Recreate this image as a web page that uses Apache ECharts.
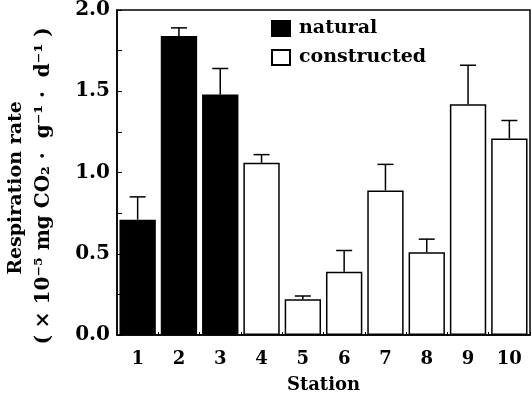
<!DOCTYPE html>
<html>
<head>
<meta charset="utf-8">
<script src="https://cdn.jsdelivr.net/npm/echarts@6/dist/echarts.min.js"></script>
<style>
  html, body { margin: 0; padding: 0; background: #fff; }
  #chart { width: 532px; height: 400px; }
</style>
</head>
<body>
<div id="chart"></div>
<script>
// stations on the x axis
const stations = ['1', '2', '3', '4', '5', '6', '7', '8', '9', '10'];
// mean respiration rate (x10^-5 mg CO2 / g / d)
const natural = [0.71, 1.84, 1.48, '-', '-', '-', '-', '-', '-', '-'];
const constructed = ['-', '-', '-', 1.06, 0.22, 0.39, 0.89, 0.51, 1.42, 1.21];
// upper error (SE)
const errors = [0.14, 0.05, 0.16, 0.05, 0.02, 0.13, 0.16, 0.08, 0.24, 0.11];
const yTicks = [0, 0.5, 1.0, 1.5, 2.0];

const font = "'DejaVu Serif', 'Liberation Serif', serif";
const chart = echarts.init(document.getElementById('chart'));

const means = stations.map((s, i) => natural[i] !== '-' ? natural[i] : constructed[i]);

const option = {
  animation: false,
  backgroundColor: '#fff',
  grid: {
    left: 117, right: 2, top: 10, bottom: 65,
    show: true, borderColor: '#000', borderWidth: 1.5
  },
  legend: {
    orient: 'vertical',
    left: 266, top: 14,
    itemWidth: 18, itemHeight: 15, itemGap: 10,
    icon: 'rect',
    textStyle: { fontFamily: font, fontWeight: 'bold', fontSize: 19, color: '#000', padding: [0, 0, 0, 4] },
    data: ['natural', 'constructed']
  },
  xAxis: {
    type: 'category',
    data: stations,
    name: 'Station',
    nameLocation: 'middle',
    nameGap: 41,
    nameTextStyle: { fontFamily: font, fontWeight: 'bold', fontSize: 18, color: '#000' },
    axisLine: { lineStyle: { color: '#000', width: 1.5 } },
    axisTick: { show: true, inside: true, length: 3, lineStyle: { color: '#000' } },
    axisLabel: { fontFamily: font, fontWeight: 'bold', fontSize: 18, color: '#000', margin: 15 }
  },
  yAxis: {
    type: 'value',
    min: 0, max: 2, interval: 0.5,
    axisLine: { show: true, lineStyle: { color: '#000', width: 1.5 } },
    axisTick: { show: true, inside: true, length: 5, lineStyle: { color: '#000' } },
    minorTick: { show: true, splitNumber: 2, length: 5, lineStyle: { color: '#000' } },
    splitLine: { show: false },
    axisLabel: {
      fontFamily: font, fontWeight: 'bold', fontSize: 20, color: '#000', margin: 7,
      formatter: v => yTicks.includes(v) ? v.toFixed(1) : ''
    }
  },
  graphic: [
    {
      type: 'text', x: 16, y: 188, rotation: Math.PI / 2,
      style: {
        text: 'Respiration rate', fontFamily: font, fontWeight: 'bold', fontSize: 19,
        fill: '#000', align: 'center', verticalAlign: 'middle'
      }
    },
    {
      type: 'text', x: 44, y: 186, rotation: Math.PI / 2,
      style: {
        text: '( \u00d7 10\u207b\u2075 mg CO\u2082 \u00b7  g\u207b\u00b9 \u00b7  d\u207b\u00b9 )',
        fontFamily: font, fontWeight: 'bold', fontSize: 20,
        fill: '#000', align: 'center', verticalAlign: 'middle'
      }
    }
  ],
  series: [
    {
      name: 'natural',
      type: 'bar',
      data: natural,
      barWidth: '88%',
      barGap: '-100%',
      itemStyle: { color: '#000', borderColor: '#000', borderWidth: 1.5 }
    },
    {
      name: 'constructed',
      type: 'bar',
      data: constructed,
      barWidth: '88%',
      itemStyle: { color: '#fff', borderColor: '#000', borderWidth: 1.5 }
    },
    {
      type: 'custom',
      name: 'error',
      data: means.map((m, i) => [i, m, m + errors[i]]),
      z: 1,
      renderItem: (params, api) => {
        const low = api.coord([api.value(0), api.value(1)]);
        const high = api.coord([api.value(0), api.value(2)]);
        const half = 8;
        const style = { stroke: '#000', lineWidth: 1.5 };
        return {
          type: 'group',
          children: [
            { type: 'line', shape: { x1: low[0], y1: low[1], x2: high[0], y2: high[1] }, style },
            { type: 'line', shape: { x1: high[0] - half, y1: high[1], x2: high[0] + half, y2: high[1] }, style }
          ]
        };
      }
    }
  ]
};

chart.setOption(option);
</script>
</body>
</html>
